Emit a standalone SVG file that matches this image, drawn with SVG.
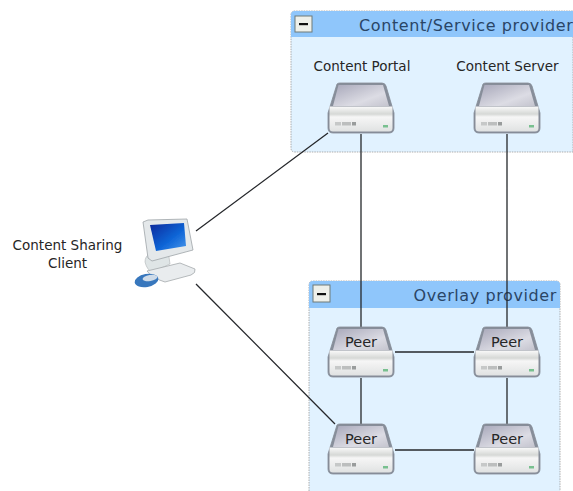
<svg xmlns="http://www.w3.org/2000/svg" xmlns:xlink="http://www.w3.org/1999/xlink" width="573" height="491" viewBox="0 0 573 491">
<style>
text{font-family:"DejaVu Sans","Liberation Sans",sans-serif;fill:#262626}
.lbl{font-size:13.500px;text-anchor:middle}
.ttl{font-size:16px;fill:#2a4566;letter-spacing:.6px}
.peer{font-size:14.500px;text-anchor:middle}
.body{fill:#e1f2ff;stroke:#9a9a9a;stroke-width:.8;stroke-dasharray:1.5 1}
.head{fill:#8fc6fb}
.btn{fill:#eef0ea;stroke:#6f7a78;stroke-width:1}
.cn{stroke:#26282c;stroke-width:1.300;fill:none}
.soft{filter:url(#b)}
</style>
<defs>
<filter id="b" x="-5%" y="-5%" width="110%" height="110%"><feGaussianBlur stdDeviation=".45"/></filter>
<linearGradient id="t" x1="0" y1="0" x2="1" y2="1"><stop offset="0" stop-color="#a8a8ba"/><stop offset=".65" stop-color="#dcdce4"/><stop offset="1" stop-color="#c4c4ce"/></linearGradient>
<linearGradient id="f" x1="0" y1="0" x2="0" y2="1"><stop offset="0" stop-color="#fafafa"/><stop offset=".3" stop-color="#d6d8d6"/><stop offset=".42" stop-color="#f6f6f6"/><stop offset="1" stop-color="#e0e2e2"/></linearGradient>
<linearGradient id="scr" x1="0" y1="0" x2="1" y2="1"><stop offset="0" stop-color="#08289a"/><stop offset=".6" stop-color="#1167d8"/><stop offset="1" stop-color="#4a98ea"/></linearGradient>
<symbol id="srv" width="68" height="51" viewBox="0 0 68 51" overflow="visible">
<g class="soft">
<path d="M10 1Q11 0 13 0H55Q58 0 59 3L67 30V45Q67 50 62 50H6Q1 50 1 45V30Z" fill="#878e9a" stroke="#858b96" stroke-width=".8"/>
<path d="M11.500 2H56L62 23H6Z" fill="url(#t)"/>
<path d="M2.500 23.500H65.500V45Q65.500 48.500 62 48.500H6Q2.500 48.500 2.500 45Z" fill="url(#f)"/>
<rect x="8" y="39" width="6" height="3.500" fill="#c6c8c8"/>
<rect x="15" y="39" width="9" height="3.500" fill="#bcbebe"/>
<rect x="25" y="39" width="4" height="3.500" fill="#999c9c"/>
<rect x="56" y="42" width="5" height="2.500" fill="#78c08f"/>
</g>
</symbol>
</defs>
<g id="content-provider">
<path class="body" d="M291 15Q291 11 295 11H573V152H295Q291 152 291 148Z"/>
<path class="head" d="M291 37V15Q291 11 295 11H573V37Z"/>
<rect class="btn" x="295" y="16" width="17" height="16"/>
<rect x="299" y="23" width="9" height="2.200" fill="#111"/>
<text class="ttl" x="359" y="31">Content/Service provider</text>
</g>
<g id="overlay-provider">
<path class="body" d="M309 491V285Q309 281 313 281H556Q560 281 560 285V491"/>
<path class="head" d="M309 308V285Q309 281 313 281H556Q560 281 560 285V308Z"/>
<rect class="btn" x="313" y="285" width="17" height="17"/>
<rect x="317" y="293" width="9" height="2.200" fill="#111"/>
<text class="ttl" x="557" y="301" text-anchor="end">Overlay provider</text>
</g>
<g id="connectors">
<path class="cn" d="M196 231L328 133M196 284L335 424M361 134V327M507 134V327M361 378V424M507 378V424M395 352H474M395 450H474"/>
</g>
<g id="content-portal"><text class="lbl" x="362" y="71">Content Portal</text><use xlink:href="#srv" href="#srv" x="327" y="83"/></g>
<g id="content-server"><text class="lbl" x="507.500" y="71">Content Server</text><use xlink:href="#srv" href="#srv" x="473" y="83"/></g>
<g id="peer-1"><use xlink:href="#srv" href="#srv" x="327" y="327"/><text class="peer" x="361" y="347">Peer</text></g>
<g id="peer-2"><use xlink:href="#srv" href="#srv" x="473" y="327"/><text class="peer" x="507" y="347">Peer</text></g>
<g id="peer-3"><use xlink:href="#srv" href="#srv" x="327" y="424"/><text class="peer" x="361" y="444">Peer</text></g>
<g id="peer-4"><use xlink:href="#srv" href="#srv" x="473" y="424"/><text class="peer" x="507" y="444">Peer</text></g>
<g id="client">
<text class="lbl" x="67.500" y="250">Content Sharing</text><text class="lbl" x="67.500" y="268">Client</text>
<g class="soft">
<path d="M145 262Q145 256 150 254L168 250L170 264L152 272Q147 270 145 262Z" fill="#dfe5e6" stroke="#aeb4b6" stroke-width=".6"/>
<path d="M143 222L148 220L187 219L193 250L152 261L148 258Z" fill="#e4e8ea" stroke="#9ea4a8" stroke-width=".8"/>
<path d="M150 225L184 223L186 246L156 251Z" fill="url(#scr)"/>
<path d="M147 271L180 263L195 269Q196 273 191 275L165 282Q152 278 147 271Z" fill="#e9ecee" stroke="#a4a9ac" stroke-width=".8"/>
<ellipse cx="146.500" cy="280.500" rx="12" ry="6.500" fill="#3877bd" transform="rotate(-10 146.500 280.500)"/>
<ellipse cx="150" cy="278" rx="7.500" ry="3" fill="#cfdbe8" transform="rotate(-10 150 278)"/>
</g>
</g>
</svg>
